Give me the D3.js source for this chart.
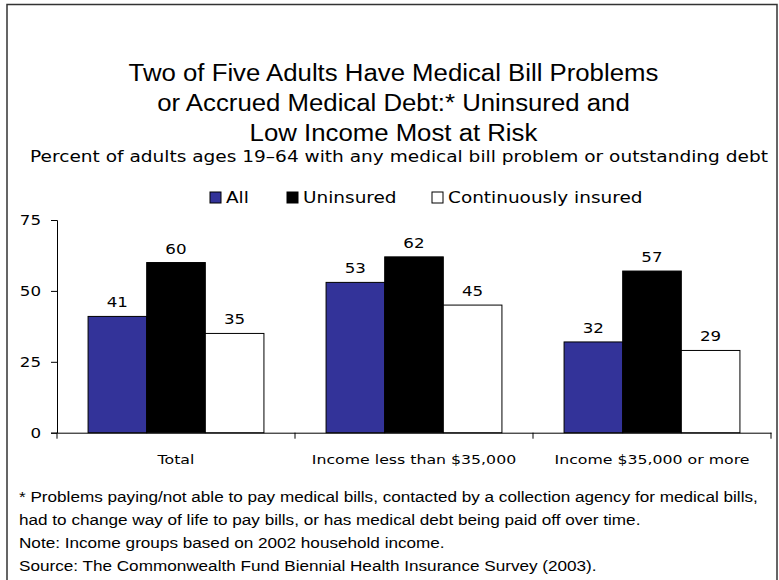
<!DOCTYPE html>
<html><head><meta charset="utf-8">
<script src="https://cdn.jsdelivr.net/npm/d3@7"></script>
<style>body{margin:0;background:#fff}svg{display:block}</style>
</head><body>
<svg id="c" width="779" height="580"></svg>
<script>
const categories = ["Total", "Income less than $35,000", "Income $35,000 or more"];
const seriesNames = ["All", "Uninsured", "Continuously insured"];
const allValues = [41, 53, 32];
const uninsuredValues = [60, 62, 57];
const continuousValues = [35, 45, 29];
const yTicks = [0, 25, 50, 75];
const titleLines = ["Two of Five Adults Have Medical Bill Problems", "or Accrued Medical Debt:* Uninsured and", "Low Income Most at Risk"];
const subtitle = "Percent of adults ages 19\u201364 with any medical bill problem or outstanding debt";
const notes = ["* Problems paying/not able to pay medical bills, contacted by a collection agency for medical bills,",
  "had to change way of life to pay bills, or has medical debt being paid off over time.",
  "Note: Income groups based on 2002 household income.",
  "Source: The Commonwealth Fund Biennial Health Insurance Survey (2003)."];

const colors = ["#333399", "#000000", "#ffffff"];
const series = [allValues, uninsuredValues, continuousValues];
const svg = d3.select("#c");
const sans = "'DejaVu Sans', Verdana, sans-serif";
const arial = "'Liberation Sans', Arial, sans-serif";

// stretch text horizontally by a factor (reference fonts render wider)
function stretch(sel, f) {
  sel.each(function() {
    const L = this.getComputedTextLength();
    d3.select(this).attr("textLength", L * f).attr("lengthAdjust", "spacingAndGlyphs");
  });
}

svg.append("rect").attr("x", 7).attr("y", 4.5).attr("width", 770).attr("height", 600)
  .attr("fill", "none").attr("stroke", "#333").attr("stroke-width", 1.5);

const tt = svg.selectAll("text.title").data(titleLines).join("text").attr("class", "title")
  .attr("x", 393.5).attr("y", (d, i) => 81 + i * 30).attr("text-anchor", "middle")
  .attr("font-family", arial).attr("font-size", 23).attr("fill", "#000").text(d => d);
stretch(tt, 1.12);

const st = svg.append("text").attr("x", 399).attr("y", 162).attr("text-anchor", "middle")
  .attr("font-family", sans).attr("font-size", 15).attr("fill", "#000").text(subtitle);
stretch(st, 1.235);

const x0 = d3.scaleBand().domain(categories).range([57, 771]).paddingInner(0).paddingOuter(0);
const x1 = d3.scaleBand().domain(d3.range(3)).range([0, x0.bandwidth()]).paddingOuter(0.53).paddingInner(0);
const y = d3.scaleLinear().domain([0, 75]).range([432.7, 220]);

// legend
const legX = [210, 287, 432];
const lg = svg.selectAll("g.leg").data(seriesNames).join("g").attr("class", "leg")
  .attr("transform", (d, i) => `translate(${legX[i]},192)`);
lg.append("rect").attr("width", 11).attr("height", 11).attr("fill", (d, i) => colors[i])
  .attr("stroke", "#000").attr("stroke-width", 1);
const lt = lg.append("text").attr("x", 16).attr("y", 11).attr("font-family", sans).attr("font-size", 15)
  .attr("fill", "#000").text(d => d);
stretch(lt, 1.23);

// axes
const yAxis = svg.append("g").attr("transform", "translate(57,0)")
  .call(d3.axisLeft(y).tickValues(yTicks).tickSize(6).tickPadding(10));
yAxis.select(".domain").attr("stroke", "#000");
yAxis.selectAll("line").attr("stroke", "#000");
const ytx = yAxis.selectAll("text").attr("font-family", sans).attr("font-size", 14.5).attr("fill", "#000");
stretch(ytx, 1.15);

const xAxis = svg.append("g").attr("transform", `translate(0,${y(0)})`)
  .call(d3.axisBottom(x0).tickSize(0).tickPadding(22));
xAxis.select(".domain").attr("stroke", "#000");
const xtx = xAxis.selectAll("text").attr("font-family", sans).attr("font-size", 12.5).attr("fill", "#000");
stretch(xtx, 1.26);
xAxis.selectAll("line.sep").data(d3.range(4)).join("line").attr("class", "sep")
  .attr("x1", i => 57 + i * x0.step()).attr("x2", i => 57 + i * x0.step())
  .attr("y1", 0).attr("y2", 6).attr("stroke", "#000");

// bars
const groups = svg.selectAll("g.grp").data(categories).join("g").attr("class", "grp")
  .attr("transform", d => `translate(${x0(d)},0)`);
groups.each(function(cat, ci) {
  const g = d3.select(this);
  series.forEach((vals, si) => {
    const v = vals[ci];
    g.append("rect").attr("x", x1(si)).attr("y", y(v)).attr("width", x1.bandwidth())
      .attr("height", y(0) - y(v)).attr("fill", colors[si]).attr("stroke", "#000").attr("stroke-width", 1);
    const t = g.append("text").attr("x", x1(si) + x1.bandwidth() / 2).attr("y", y(v) - 9)
      .attr("text-anchor", "middle").attr("font-family", sans).attr("font-size", 14.5)
      .attr("fill", "#000").text(v);
    stretch(t, 1.15);
  });
});

const nt = svg.selectAll("text.note").data(notes).join("text").attr("class", "note")
  .attr("x", 19).attr("y", (d, i) => 502 + i * 23).attr("font-family", arial)
  .attr("font-size", 15.5).attr("fill", "#000").text(d => d);
stretch(nt, 1.105);
</script>
</body></html>
